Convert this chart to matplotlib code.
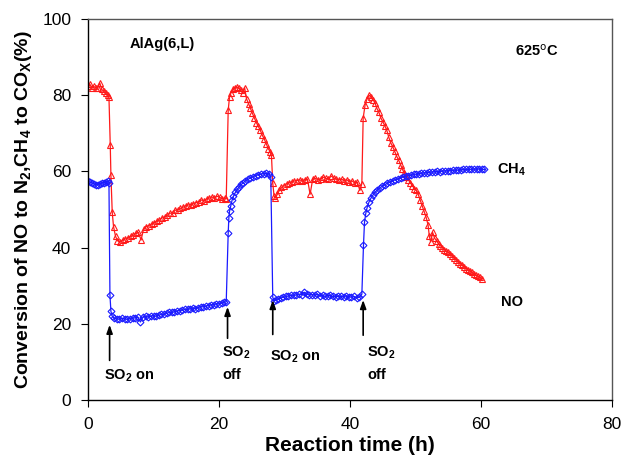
import numpy as np
import matplotlib
matplotlib.use("Agg")
import matplotlib.pyplot as plt

plt.rcParams['font.family'] = ['Liberation Sans', 'DejaVu Sans']
plt.rcParams['mathtext.default'] = 'regular'

# NO conversion to N2 (%), red triangles
no_t = [0.0, 0.3, 0.6, 0.9, 1.2, 1.5, 1.8, 2.1, 2.4, 2.7, 3.0, 3.2,
        3.4, 3.5, 3.7, 3.9, 4.2, 4.5, 4.9, 5.3, 5.7, 6.1, 6.5, 6.9, 7.3, 7.7, 8.1, 8.5, 8.9,
        9.3, 9.7, 10.1, 10.5, 10.9, 11.3, 11.7, 12.1, 12.5, 12.9, 13.3, 13.7, 14.1, 14.5,
        14.9, 15.3, 15.7, 16.1, 16.5, 16.9, 17.3, 17.7, 18.1, 18.5, 18.9, 19.3, 19.7, 20.1,
        20.5, 20.9, 21.1,
        21.4, 21.6, 21.8, 22.1, 22.4, 22.7, 23.0, 23.3, 23.6, 23.9, 24.2, 24.5, 24.8, 25.1,
        25.4, 25.7, 26.0, 26.3, 26.6, 26.9, 27.2, 27.5, 27.8, 28.0,
        28.2, 28.4, 28.6, 28.9, 29.2, 29.5, 29.9, 30.3, 30.7, 31.1, 31.5, 31.9, 32.3, 32.7,
        33.1, 33.5, 33.9, 34.3, 34.7, 35.1, 35.5, 35.9, 36.3, 36.7, 37.1, 37.5, 37.9, 38.3,
        38.7, 39.1, 39.5, 39.9, 40.3, 40.7, 41.1, 41.5, 41.8,
        42.0, 42.3, 42.6, 42.9, 43.2, 43.5, 43.8, 44.1, 44.4, 44.7, 45.0, 45.3, 45.6, 45.9,
        46.2, 46.5, 46.8, 47.1, 47.4, 47.7, 48.0, 48.3, 48.6, 48.9, 49.2, 49.5, 49.8, 50.1,
        50.4, 50.7, 51.0, 51.3, 51.6, 51.9, 52.1, 52.3, 52.6, 52.9, 53.2, 53.5, 53.8, 54.1,
        54.4, 54.7, 55.0, 55.3, 55.6, 55.9, 56.2, 56.5, 56.8, 57.1, 57.4, 57.7, 58.0, 58.3,
        58.6, 58.9, 59.2, 59.5, 59.8, 60.1]
no_v = [82.5, 82.8, 82.0, 82.3, 81.8, 82.0, 83.2, 81.5, 81.0, 80.5, 80.0, 79.5,
        66.8, 59.0, 49.3, 45.5, 43.0, 41.8, 41.5, 42.0, 42.3, 42.5, 43.0, 43.2, 43.8, 44.0, 42.0, 45.0, 45.5,
        45.8, 46.2, 46.5, 47.0, 47.2, 47.8, 48.0, 48.5, 49.0, 49.2, 49.8, 50.0, 50.3, 50.6,
        51.0, 51.2, 51.3, 51.5, 51.8, 52.0, 52.5, 52.3, 52.8, 53.0, 53.3, 53.0, 53.5, 53.2,
        52.8, 53.0, 52.8,
        76.0, 79.5, 80.5, 81.5, 82.0, 82.2, 81.8, 81.3, 80.5, 82.0, 79.0, 77.8, 76.5, 75.2,
        74.0, 72.8, 71.8, 70.8, 69.5, 68.5, 67.3, 66.0, 65.2, 64.2,
        57.0, 53.5, 53.0, 54.0, 55.0, 55.8, 56.3, 56.8, 57.0, 57.2, 57.5, 57.6, 57.8, 57.5,
        57.8, 58.0, 54.0, 58.0, 58.2, 57.8, 58.0, 58.5, 58.2, 57.9, 58.8, 58.3, 58.0, 57.8,
        58.0, 57.5, 57.8, 57.3, 57.5, 57.0, 57.2, 55.0, 56.8,
        74.0, 77.5, 79.0, 80.0, 79.5, 78.8, 78.0, 76.5, 75.5, 74.0, 73.0, 72.0, 70.8, 69.0,
        67.5, 66.5, 65.3, 64.0, 63.0, 61.8, 60.5, 59.5, 58.5, 57.8, 57.0, 56.3, 55.5, 55.0,
        54.0, 52.5, 51.0, 49.5, 48.0, 46.0, 43.0, 41.5, 44.0, 42.5, 41.8, 41.0, 40.5, 40.0,
        39.5, 39.0, 38.8, 38.3, 37.8, 37.2, 36.8, 36.3, 35.8, 35.5, 35.0, 34.5, 34.2, 34.0,
        33.5, 33.0, 32.8, 32.5, 32.2, 31.8]

# CH4 conversion to COx (%), blue diamonds
ch4_t = [0.0, 0.3, 0.6, 0.9, 1.2, 1.5, 1.8, 2.1, 2.4, 2.7, 3.0, 3.2,
         3.35, 3.5, 3.7, 4.0, 4.4, 4.8, 5.2, 5.6, 6.0, 6.4, 6.8, 7.2, 7.6, 8.0, 8.4, 8.8,
         9.2, 9.6, 10.0, 10.4, 10.8, 11.2, 11.6, 12.0, 12.4, 12.8, 13.2, 13.6, 14.0, 14.4,
         14.8, 15.2, 15.6, 16.0, 16.4, 16.8, 17.2, 17.6, 18.0, 18.4, 18.8, 19.2, 19.6, 20.0,
         20.4, 20.8, 21.1,
         21.4, 21.5, 21.6, 21.8, 22.0, 22.2, 22.5, 22.8, 23.1, 23.4, 23.7, 24.0, 24.4, 24.8,
         25.2, 25.6, 26.0, 26.4, 26.8, 27.2, 27.6, 27.9,
         28.2, 28.4, 28.7, 29.0, 29.4, 29.8, 30.2, 30.6, 31.0, 31.4, 31.8, 32.2, 32.6, 33.0,
         33.4, 33.8, 34.2, 34.6, 35.0, 35.4, 35.8, 36.2, 36.6, 37.0, 37.4, 37.8, 38.2, 38.6,
         39.0, 39.4, 39.8, 40.2, 40.6, 41.0, 41.4, 41.8,
         42.05, 42.2, 42.4, 42.6, 42.9, 43.2, 43.5, 43.8, 44.1, 44.5, 44.9, 45.3, 45.7, 46.1,
         46.5, 46.9, 47.3, 47.7, 48.1, 48.5, 48.9, 49.3, 49.7, 50.1, 50.5, 50.9, 51.3, 51.7,
         52.1, 52.5, 52.9, 53.3, 53.7, 54.1, 54.5, 54.9, 55.3, 55.7, 56.1, 56.5, 56.9, 57.3,
         57.7, 58.1, 58.5, 58.9, 59.3, 59.7, 60.1, 60.5]
ch4_v = [57.5, 57.2, 57.0, 56.8, 56.5, 56.5, 56.8, 57.0, 57.0, 57.2, 57.5, 57.0,
         27.6, 23.3, 22.0, 21.5, 21.3, 21.2, 21.5, 21.3, 21.2, 21.4, 21.5, 21.6, 21.8, 20.5, 21.8, 22.0,
         21.8, 22.0, 22.2, 22.0, 22.3, 22.5, 22.5, 22.8, 23.0, 23.0, 23.2, 23.4, 23.5, 23.6,
         23.8, 23.8, 24.0, 24.2, 24.0, 24.3, 24.5, 24.5, 24.7, 24.8, 25.0, 25.0, 25.3, 25.2,
         25.5, 25.7, 25.8,
         43.8, 47.8, 49.5, 51.0, 52.5, 53.5, 54.5, 55.3, 56.0, 56.6, 57.0, 57.5, 57.9, 58.3,
         58.6, 58.9, 59.1, 59.3, 59.4, 59.5, 59.4, 58.5,
         27.0, 26.0, 26.3, 26.5, 26.8, 27.0, 27.2, 27.3, 27.5, 27.5, 27.6, 27.8, 27.7, 28.3,
         27.8, 27.6, 27.7, 27.5, 27.8, 27.3, 27.5, 27.2, 27.4, 27.5, 27.2, 27.0, 27.3, 27.2,
         27.0, 27.4, 27.1, 27.0, 27.2, 26.8, 27.0, 27.8,
         40.7, 46.6, 49.0, 50.5, 52.0, 53.0, 53.8, 54.5, 55.0, 55.6, 56.1, 56.5, 56.9, 57.2,
         57.5, 57.8, 58.0, 58.3, 58.5, 58.7, 58.9, 59.0, 59.2, 59.3, 59.4, 59.5, 59.6, 59.6,
         59.8, 59.8, 59.9, 60.0, 59.9, 60.1, 60.1, 60.2, 60.2, 60.3, 60.3, 60.4, 60.4, 60.5,
         60.5, 60.5, 60.6, 60.6, 60.6, 60.7, 60.6, 60.5]

fig = plt.figure(figsize=(6.24, 4.61), dpi=100)
ax = fig.add_axes([0.141, 0.132, 0.840, 0.827])

ax.plot(no_t, no_v, color='#ff1a1a', lw=0.9, marker='^', ms=4.5, mfc='none',
        mec='#ff1a1a', mew=0.8)
ax.plot(ch4_t, ch4_v, color='#1a1aff', lw=0.9, marker='D', ms=3.5, mfc='none',
        mec='#1a1aff', mew=0.8)

ax.set_xlim(0, 80)
ax.set_ylim(0, 100)
ax.set_xticks([0, 20, 40, 60, 80])
ax.set_yticks([0, 20, 40, 60, 80, 100])
ax.tick_params(direction='out', length=5, labelsize=12.5, pad=7)
for s in ax.spines.values():
    s.set_color('#555555')
    s.set_linewidth(1.0)
ax.spines['left'].set_color('black')
ax.spines['bottom'].set_color('black')

ax.set_xlabel('Reaction time (h)', fontsize=15, fontweight='bold', labelpad=3)
ax.set_ylabel('Conversion of NO to N$_2$,CH$_4$ to CO$_X$(%)', fontsize=14,
              fontweight='bold', labelpad=6)

tkw = dict(fontsize=10.5, fontweight='bold')
ax.text(6.4, 93.5, 'AlAg(6,L)', va='center', **tkw)
ax.text(65.2, 91.5, '625$^{\\rm o}$C', va='center', **tkw)
ax.text(62.5, 60.4, 'CH$_4$', va='center', **tkw)
ax.text(63.0, 25.7, 'NO', va='center', **tkw)

akw = dict(arrowstyle='-|>,head_length=0.5,head_width=0.18', color='black', lw=1.2)
ax.annotate('', xy=(3.3, 20.5), xytext=(3.3, 9.7), arrowprops=akw)
ax.text(2.5, 6.3, 'SO$_2$ on', va='center', **tkw)
ax.annotate('', xy=(21.3, 25.2), xytext=(21.3, 15.5), arrowprops=akw)
ax.text(20.5, 12.4, 'SO$_2$', va='center', **tkw)
ax.text(20.5, 6.5, 'off', va='center', **tkw)
ax.annotate('', xy=(28.2, 27.0), xytext=(28.2, 16.5), arrowprops=akw)
ax.text(27.8, 11.4, 'SO$_2$ on', va='center', **tkw)
ax.annotate('', xy=(42.0, 27.0), xytext=(42.0, 16.3), arrowprops=akw)
ax.text(42.6, 12.4, 'SO$_2$', va='center', **tkw)
ax.text(42.6, 6.5, 'off', va='center', **tkw)

fig.savefig('out.png', dpi=100)
